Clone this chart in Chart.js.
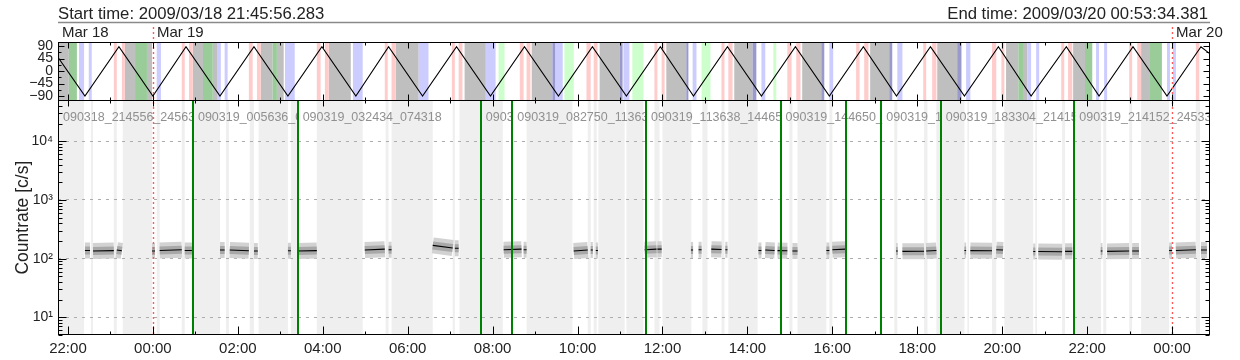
<!DOCTYPE html>
<html>
<head>
<meta charset="utf-8">
<script src="https://cdn.jsdelivr.net/npm/chart.js@4.4.1/dist/chart.umd.min.js"></script>
<style>html,body{margin:0;padding:0;background:#fff}canvas{display:block}</style>
</head>
<body>
<canvas id="c" width="1240" height="360"></canvas>
<script>
// ---------- data (time in hours since 2009/03/18 00:00) ----------
const startLabel = 'Start time: 2009/03/18 21:45:56.283';
const endLabel = 'End time: 2009/03/20 00:53:34.381';
const timeMin = 21.7656;
const timeMax = 48.8928;

const hourTicks = [22, 24, 26, 28, 30, 32, 34, 36, 38, 40, 42, 44, 46, 48];
const hourTickLabels = ['22:00','00:00','02:00','04:00','06:00','08:00','10:00','12:00','14:00','16:00','18:00','20:00','22:00','00:00'];

const dayBoundaries = [24, 48];
const dayLabels = ['Mar 18', 'Mar 19', 'Mar 20'];

const angleTicks = [90, 45, 0, -45, -90];
const angleTickLabels = ['90', '45', '0', '\u221245', '\u221290'];

const rateTicks = [10, 100, 1000, 10000];
const rateTickLabels = ['10\u00b9', '10\u00b2', '10\u00b3', '10\u2074'];

const orbitTimes = [21.7656, 22.40, 23.20, 24.00, 24.78, 25.58, 26.38, 27.18, 27.98, 28.78, 29.55, 30.35, 31.15, 31.95, 32.75, 33.55, 34.35, 35.15, 35.95, 36.73, 37.53, 38.33, 39.13, 39.93, 40.73, 41.51, 42.31, 43.11, 43.91, 44.68, 45.51, 46.28, 47.08, 47.88, 48.68, 48.8928];
const orbitAngles = [50, -90, 88, -90, 88, -90, 88, -90, 88, -90, 88, -90, 88, -90, 88, -90, 88, -90, 88, -90, 88, -90, 88, -90, 88, -90, 88, -90, 88, -90, 88, -90, 88, -90, 88, 62];

const topGreyBands = [[21.7656,22.02],[23.34,23.58],[23.86,23.98],[24.94,25.18],[25.41,25.51],[26.54,26.82],[26.92,27.08],[28.14,28.66],[29.72,30.26],[31.34,31.84],[32.92,33.41],[34.52,34.99],[36.09,36.56],[37.69,38.12],[39.29,39.74],[40.89,41.34],[42.47,42.94],[44.09,44.38],[44.49,44.59],[45.67,45.95],[47.27,47.46]];
const topGreenBands = [[22.02,22.21],[23.58,23.86],[25.18,25.41],[26.82,26.92],[44.38,44.49],[45.95,46.12],[47.46,47.76]];
const topLightGreenBands = [[32.14,32.28],[33.69,33.91],[35.29,35.55],[36.92,37.13],[38.61,38.68]];
const topPinkBands = [[23.08,23.15],[23.27,23.34],[24.68,24.75],[24.85,24.94],[26.26,26.35],[26.45,26.54],[27.86,27.95],[28.05,28.14],[29.46,29.53],[29.62,29.72],[31.04,31.11],[31.20,31.29],[32.64,32.73],[32.80,32.89],[34.21,34.31],[34.38,34.47],[35.81,35.88],[35.98,36.05],[37.39,37.46],[37.55,37.65],[38.94,39.04],[39.15,39.25],[40.56,40.64],[40.75,40.85],[42.14,42.21],[42.35,42.45],[43.76,43.86],[43.98,44.05],[45.39,45.46],[45.55,45.65],[46.99,47.06],[47.18,47.27],[48.56,48.64]];
const topBlueBands = [[22.26,22.38],[22.49,22.56],[24.09,24.19],[25.51,25.60],[25.69,25.76],[27.11,27.34],[28.71,28.94],[30.26,30.49],[31.84,32.07],[33.41,33.65],[35.08,35.22],[36.71,36.80],[38.33,38.42],[39.93,40.02],[41.53,41.65],[43.15,43.25],[44.59,44.68],[44.80,44.87],[46.21,46.28],[46.40,46.47],[47.88,47.95],[48.02,48.09]];
const topDarkBlueBands = [[33.41,33.47],[34.99,35.06],[36.56,36.61],[38.12,38.21],[39.74,39.81],[41.34,41.41],[42.94,43.04]];

const bottomGreyBands = [[21.7656,22.38],[22.54,22.59],[23.08,23.15],[23.29,23.98],[24.09,24.16],[24.68,24.75],[24.94,25.58],[25.72,25.79],[26.28,26.38],[26.49,27.18],[27.25,27.39],[27.86,28.94],[29.48,29.55],[29.62,30.59],[31.06,31.11],[31.22,32.24],[32.80,33.88],[34.24,34.31],[34.38,34.45],[34.49,35.11],[35.15,35.55],[35.81,35.93],[36.00,36.68],[36.94,37.06],[37.39,37.46],[37.55,38.24],[38.99,39.06],[39.18,39.86],[39.93,40.00],[41.46,41.53],[42.16,42.24],[42.45,43.11],[43.18,43.22],[43.76,43.86],[44.05,44.73],[44.78,44.82],[45.41,45.48],[45.67,46.33],[46.38,46.45],[46.99,47.06],[47.27,47.93],[48.56,48.66]];

// [start, end, rate at start, rate at end]
const rateSegments = [[22.40,22.52,138,138],[22.59,23.08,135,137],[23.15,23.27,140,136],[23.98,24.05,135,135],[24.16,24.68,138,142],[24.75,24.92,138,138],[25.58,25.69,140,140],[25.81,26.26,140,136],[26.38,26.47,135,135],[27.18,27.25,136,136],[27.41,27.86,135,137],[28.99,29.46,140,145],[29.55,29.62,142,142],[30.59,31.06,168,152],[31.11,31.20,150,150],[32.26,32.68,142,145],[32.73,32.80,142,142],[33.91,34.24,135,140],[34.31,34.36,140,140],[34.43,34.48,138,138],[35.58,35.86,142,145],[35.88,35.98,145,145],[36.67,36.72,140,140],[36.85,36.92,142,142],[37.15,37.39,145,143],[37.48,37.53,142,142],[38.26,38.33,138,138],[38.42,38.64,140,138],[38.71,38.94,137,136],[39.06,39.18,135,135],[39.86,39.93,138,138],[40.00,40.31,142,145],[41.50,41.54,135,135],[41.65,42.16,133,134],[42.21,42.45,135,138],[43.11,43.15,138,138],[43.25,43.76,137,136],[43.86,44.02,142,140],[44.73,44.78,132,132],[44.85,45.41,132,131],[45.48,45.65,133,133],[46.32,46.36,135,135],[46.47,46.99,133,135],[47.06,47.22,135,135],[47.93,48.00,138,138],[48.09,48.56,138,142],[48.68,48.82,140,140]];

const greenLineTimes = [24.9433, 27.4094, 31.7217, 32.4639, 35.6106, 38.7806, 40.33, 41.1531, 42.5511, 45.6978];

const intervalStarts = [21.7656, 24.9433, 27.4094, 31.7217, 32.4639, 35.6106, 38.7806, 41.1531, 42.5511, 45.6978];
const intervalNames = ['090318_214556_245636','090319_005636_032434','090319_032434_074318','090319_074318_082750','090319_082750_113638','090319_113638_144650','090319_144650_170911','090319_170911_183304','090319_183304_214152','090319_214152_245334'];

// ---------- chart ----------
const FONT = "'Liberation Sans', Arial, Helvetica, sans-serif";

function buildRateData() {
  const out = [];
  rateSegments.forEach(([s, e, a, b]) => { out.push({x: s, y: a}, {x: e, y: b}, {x: e, y: null}); });
  return out;
}
const orbitData = orbitTimes.map((t, i) => ({x: t, y: orbitAngles[i]}));

function drawBands(ctx, xs, ys, list, color) {
  ctx.fillStyle = color;
  list.forEach(([a, b]) => {
    const x1 = xs.getPixelForValue(a), x2 = xs.getPixelForValue(b);
    ctx.fillRect(x1, ys.top, Math.max(x2 - x1, 1), ys.bottom - ys.top);
  });
}

const panelPlugin = {
  id: 'panels',
  beforeDraw(chart) {
    const {ctx, scales: {x, yA, yB}} = chart;
    ctx.save();
    ctx.fillStyle = '#fff';
    ctx.fillRect(0, 0, chart.width, chart.height);
    drawBands(ctx, x, yB, bottomGreyBands, '#efefef');
    drawBands(ctx, x, yA, topGreyBands, '#bfbfbf');
    drawBands(ctx, x, yA, topGreenBands, '#99cc99');
    drawBands(ctx, x, yA, topLightGreenBands, '#ccffcc');
    drawBands(ctx, x, yA, topPinkBands, '#ffcccc');
    drawBands(ctx, x, yA, topBlueBands, '#ccccff');
    drawBands(ctx, x, yA, topDarkBlueBands, '#9999cc');
    ctx.restore();
  },
  afterDatasetsDraw(chart) {
    const {ctx, chartArea: ca, scales: {x, yA, yB}} = chart;
    ctx.save();
    // interval labels
    ctx.font = '12.5px ' + FONT;
    ctx.fillStyle = '#909090';
    ctx.textBaseline = 'alphabetic';
    ctx.textAlign = 'left';
    intervalStarts.forEach((t, i) => {
      const x0 = x.getPixelForValue(t);
      const xe = i + 1 < intervalStarts.length ? x.getPixelForValue(intervalStarts[i + 1]) + 1 : ca.right;
      ctx.save();
      ctx.beginPath();
      ctx.rect(x0, yB.top, xe - x0, 30);
      ctx.clip();
      ctx.fillText(intervalNames[i], x0 + 5, yB.top + 20.5);
      ctx.restore();
    });
    // green lines
    ctx.strokeStyle = '#008000';
    ctx.lineWidth = 2;
    greenLineTimes.forEach(t => {
      const px = Math.round(x.getPixelForValue(t));
      ctx.beginPath(); ctx.moveTo(px, yB.top); ctx.lineTo(px, yB.bottom); ctx.stroke();
    });
    // day boundaries
    ctx.strokeStyle = '#ff5a5a';
    ctx.lineWidth = 1.4;
    ctx.setLineDash([2, 3]);
    dayBoundaries.forEach(t => {
      const px = Math.round(x.getPixelForValue(t)) + 0.5;
      ctx.beginPath(); ctx.moveTo(px, 27); ctx.lineTo(px, yB.bottom); ctx.stroke();
    });
    ctx.restore();
  },
  afterDraw(chart) {
    const {ctx, chartArea: ca, scales: {x, yA, yB}} = chart;
    ctx.save();
    // frames
    ctx.strokeStyle = '#000';
    ctx.lineWidth = 1;
    const L = Math.round(ca.left) + 0.5, R = Math.round(ca.right) - 0.5;
    const tA = Math.round(yA.top) + 0.5, bA = Math.round(yA.bottom) + 0.5, bB = Math.round(yB.bottom) - 0.5;
    ctx.strokeRect(L, tA, R - L, bA - tA);
    ctx.strokeRect(L, bA, R - L, bB - bA);
    // x ticks on every horizontal border
    ctx.beginPath();
    for (let h = Math.ceil(timeMin); h <= timeMax; h++) {
      const px = Math.round(x.getPixelForValue(h)) + 0.5;
      const len = h % 2 === 0 ? 6 : 3;
      ctx.moveTo(px, tA); ctx.lineTo(px, tA + len);
      ctx.moveTo(px, bA); ctx.lineTo(px, bA - len);
      ctx.moveTo(px, bA); ctx.lineTo(px, bA + len);
      ctx.moveTo(px, bB); ctx.lineTo(px, bB - (h % 2 === 0 ? 8 : 3));
    }
    // angle ticks
    for (let a = -90; a <= 90; a += 22.5) {
      const py = Math.round(yA.getPixelForValue(a)) + 0.5;
      const len = a % 45 === 0 ? 6 : 3;
      ctx.moveTo(L, py); ctx.lineTo(L + len, py);
      ctx.moveTo(R, py); ctx.lineTo(R - len, py);
    }
    // rate ticks
    for (let d = 1; d <= 10000; d *= 10) {
      for (let m = 1; m <= 9; m++) {
        const v = d * m;
        if (v < 5 || v > 50000) continue;
        const py = Math.round(yB.getPixelForValue(v)) + 0.5;
        const len = m === 1 ? 8 : 4;
        ctx.moveTo(L, py); ctx.lineTo(L + len, py);
        ctx.moveTo(R, py); ctx.lineTo(R - len, py);
      }
    }
    ctx.stroke();
    // header
    ctx.fillStyle = '#222';
    ctx.font = '16.7px ' + FONT;
    ctx.textBaseline = 'alphabetic';
    ctx.textAlign = 'left';
    ctx.fillText(startLabel, ca.left, 18.5);
    ctx.textAlign = 'right';
    ctx.fillText(endLabel, ca.right - 2, 18.5);
    ctx.strokeStyle = '#8a8a8a';
    ctx.lineWidth = 1.6;
    ctx.beginPath(); ctx.moveTo(ca.left, 22.5); ctx.lineTo(ca.right, 22.5); ctx.stroke();
    // day labels
    ctx.font = '15px ' + FONT;
    ctx.textAlign = 'left';
    ctx.fillText(dayLabels[0], ca.left + 4, 36.5);
    dayBoundaries.forEach((t, i) => {
      ctx.fillText(dayLabels[i + 1], x.getPixelForValue(t) + 4, 36.5);
    });
    ctx.restore();
  }
};

const tickFont = {family: FONT, size: 15};

new Chart(document.getElementById('c'), {
  type: 'line',
  data: {
    datasets: [
      {label: 'Angle', data: orbitData, yAxisID: 'yA', order: 0, borderColor: '#000', borderWidth: 1.1, pointRadius: 0, tension: 0, fill: false},
      {label: 'Countrate', data: buildRateData(), yAxisID: 'yB', order: 1, borderColor: '#000', borderWidth: 1.1, pointRadius: 0, spanGaps: false, fill: false},
      {label: 'Countrate core', data: buildRateData(), yAxisID: 'yB', order: 2, borderColor: '#a8a8a8', borderWidth: 8, borderCapStyle: 'butt', pointRadius: 0, spanGaps: false, fill: false},
      {label: 'Countrate spread', data: buildRateData(), yAxisID: 'yB', order: 3, borderColor: '#d2d2d2', borderWidth: 16, borderCapStyle: 'butt', pointRadius: 0, spanGaps: false, fill: false}
    ]
  },
  options: {
    responsive: false,
    animation: false,
    devicePixelRatio: 1,
    layout: {padding: {top: 42, right: 30, bottom: 0, left: 0}},
    plugins: {legend: {display: false}, tooltip: {enabled: false}},
    scales: {
      x: {
        type: 'linear', position: 'bottom', min: timeMin, max: timeMax, offset: false,
        afterBuildTicks: s => { s.ticks = hourTicks.map(v => ({value: v})); },
        afterFit: s => { s.height = 25; },
        grid: {display: false, drawTicks: false},
        border: {display: false},
        ticks: {autoSkip: false, maxRotation: 0, padding: 5, color: '#222', font: tickFont,
          callback: v => { const i = hourTicks.indexOf(v); return i < 0 ? '' : hourTickLabels[i]; }}
      },
      yB: {
        type: 'logarithmic', position: 'left', stack: 'panels', stackWeight: 235, min: 5, max: 50000,
        afterBuildTicks: s => { s.ticks = rateTicks.map(v => ({value: v})); },
        afterFit: s => { s.width = 58; },
        grid: {display: true, drawTicks: false, color: '#acacac', lineWidth: 1, borderDash: [3, 5]},
        border: {display: false, dash: [3, 5]},
        ticks: {autoSkip: false, padding: 5, color: '#222', font: {family: FONT, size: 14},
          callback: v => { const i = rateTicks.indexOf(v); return i < 0 ? '' : rateTickLabels[i]; }},
        title: {display: true, text: 'Countrate [c/s]', color: '#222', font: {family: FONT, size: 17.5}, padding: {top: 13, bottom: 0}}
      },
      yA: {
        type: 'linear', position: 'left', stack: 'panels', stackWeight: 58.3, min: -105, max: 105,
        afterBuildTicks: s => { s.ticks = angleTicks.map(v => ({value: v})); },
        afterFit: s => { s.width = 58; },
        grid: {display: false, drawTicks: false},
        border: {display: false},
        ticks: {autoSkip: false, padding: 5, color: '#222', font: {family: FONT, size: 14},
          callback: v => { const i = angleTicks.indexOf(v); return i < 0 ? '' : angleTickLabels[i]; }}
      }
    }
  },
  plugins: [panelPlugin]
});
</script>
</body>
</html>
